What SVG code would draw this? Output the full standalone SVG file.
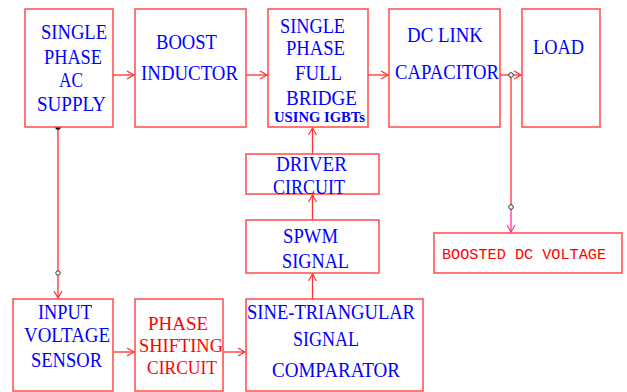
<svg xmlns="http://www.w3.org/2000/svg" width="627" height="392" viewBox="0 0 627 392">
<style>
.box{fill:#fff;stroke:#ff4a4a;stroke-width:1.5}
.t{font-family:"Liberation Serif","Times New Roman",serif;font-size:21px;fill:#0000ff}
.r{fill:#ff0000;font-size:19px}
.w{stroke:#ff3030;stroke-width:1.3;fill:none}
.mono{font-family:"Liberation Mono","Courier New",monospace;font-size:15px;fill:#ff0000}
</style>
<defs>
<marker id="ah" markerWidth="10" markerHeight="10" refX="8" refY="5" orient="auto" markerUnits="userSpaceOnUse">
<path d="M1,1 L8,5 L1,9" fill="none" stroke="#ff3030" stroke-width="1.2"/>
</marker>
<marker id="ahm" markerWidth="10" markerHeight="10" refX="8" refY="5" orient="auto" markerUnits="userSpaceOnUse">
<path d="M1,1 L8,5 L1,9" fill="none" stroke="#ff3399" stroke-width="1.2"/>
</marker>
</defs>
<rect width="627" height="392" fill="#fff"/>
<g id="connectors">
<line class="w" x1="113" y1="75" x2="134" y2="75" marker-end="url(#ah)"/>
<line class="w" x1="246" y1="75" x2="267" y2="75" marker-end="url(#ah)"/>
<line class="w" x1="368" y1="75" x2="388" y2="75" marker-end="url(#ah)"/>
<line class="w" x1="500" y1="75" x2="521" y2="75" marker-end="url(#ah)"/>
<line class="w" x1="511" y1="75" x2="511" y2="207"/>
<line x1="511" y1="207" x2="511" y2="232" stroke="#ff3399" stroke-width="1.3" marker-end="url(#ahm)"/>
<circle cx="511" cy="75" r="2.3" fill="#fff" stroke="#333" stroke-width="1"/>
<circle cx="511" cy="207" r="2.3" fill="#fff" stroke="#333" stroke-width="1"/>
<line class="w" x1="312.5" y1="154" x2="312.5" y2="128" marker-end="url(#ah)"/>
<line class="w" x1="312.5" y1="220" x2="312.5" y2="195" marker-end="url(#ah)"/>
<line class="w" x1="312.5" y1="299" x2="312.5" y2="274" marker-end="url(#ah)"/>
<line class="w" x1="58" y1="127" x2="58" y2="273"/>
<line class="w" x1="58" y1="273" x2="58" y2="298" marker-end="url(#ah)"/>
<circle cx="58" cy="127" r="2.8" fill="#000"/>
<circle cx="58" cy="273" r="2.2" fill="#fff" stroke="#333" stroke-width="1"/>
<line class="w" x1="113" y1="352" x2="134" y2="352" marker-end="url(#ah)"/>
<line class="w" x1="223" y1="352" x2="245" y2="352" marker-end="url(#ah)"/>
</g>
<g id="ac-supply">
<rect class="box" x="25" y="9" width="88" height="118"/>
<text class="t" x="41" y="39" textLength="66" lengthAdjust="spacingAndGlyphs">SINGLE</text>
<text class="t" x="44" y="64" textLength="58" lengthAdjust="spacingAndGlyphs">PHASE</text>
<text class="t" x="59" y="87" textLength="24" lengthAdjust="spacingAndGlyphs">AC</text>
<text class="t" x="37" y="111" textLength="69" lengthAdjust="spacingAndGlyphs">SUPPLY</text>
</g>
<g id="boost-inductor">
<rect class="box" x="135" y="9" width="111" height="118"/>
<text class="t" x="156" y="49" textLength="61" lengthAdjust="spacingAndGlyphs">BOOST</text>
<text class="t" x="141" y="80" textLength="97" lengthAdjust="spacingAndGlyphs">INDUCTOR</text>
</g>
<g id="full-bridge">
<rect class="box" x="268" y="9" width="100" height="118"/>
<text class="t" x="280" y="33" textLength="65" lengthAdjust="spacingAndGlyphs">SINGLE</text>
<text class="t" x="286" y="55" textLength="59" lengthAdjust="spacingAndGlyphs">PHASE</text>
<text class="t" x="295" y="80" textLength="47" lengthAdjust="spacingAndGlyphs">FULL</text>
<text class="t" x="286" y="105" textLength="71" lengthAdjust="spacingAndGlyphs">BRIDGE</text>
<text x="274" y="122" font-family="Liberation Serif,serif" font-weight="bold" font-size="14" fill="#0000ff" textLength="91" lengthAdjust="spacingAndGlyphs">USING IGBTs</text>
</g>
<g id="dc-link">
<rect class="box" x="389" y="9" width="111" height="118"/>
<text class="t" x="407" y="42" textLength="76" lengthAdjust="spacingAndGlyphs">DC LINK</text>
<text class="t" x="395" y="79" textLength="104" lengthAdjust="spacingAndGlyphs">CAPACITOR</text>
</g>
<g id="load">
<rect class="box" x="522" y="9" width="78" height="118"/>
<text class="t" x="533" y="54" textLength="51" lengthAdjust="spacingAndGlyphs">LOAD</text>
</g>
<g id="driver">
<rect class="box" x="246" y="154" width="133" height="40"/>
<text class="t" x="276" y="171" textLength="71" lengthAdjust="spacingAndGlyphs">DRIVER</text>
<text class="t" x="273" y="194" textLength="72" lengthAdjust="spacingAndGlyphs">CIRCUIT</text>
</g>
<g id="spwm">
<rect class="box" x="246" y="220" width="133" height="53"/>
<text class="t" x="283" y="243" textLength="55" lengthAdjust="spacingAndGlyphs">SPWM</text>
<text class="t" x="282" y="268" textLength="67" lengthAdjust="spacingAndGlyphs">SIGNAL</text>
</g>
<g id="boosted">
<rect class="box" x="434" y="233" width="188" height="40"/>
<text class="mono" x="442" y="259" textLength="164" lengthAdjust="spacingAndGlyphs">BOOSTED DC VOLTAGE</text>
</g>
<g id="sensor">
<rect class="box" x="13" y="299" width="100" height="92"/>
<text class="t" x="38" y="319" textLength="54" lengthAdjust="spacingAndGlyphs">INPUT</text>
<text class="t" x="24" y="342" textLength="86" lengthAdjust="spacingAndGlyphs">VOLTAGE</text>
<text class="t" x="31" y="367" textLength="71" lengthAdjust="spacingAndGlyphs">SENSOR</text>
</g>
<g id="phase-shift">
<rect class="box" x="135" y="299" width="88" height="92"/>
<text class="t r" x="148" y="330" textLength="60" lengthAdjust="spacingAndGlyphs">PHASE</text>
<text class="t r" x="139" y="352" textLength="84" lengthAdjust="spacingAndGlyphs">SHIFTING</text>
<text class="t r" x="147" y="374" textLength="70" lengthAdjust="spacingAndGlyphs">CIRCUIT</text>
</g>
<g id="comparator">
<rect class="box" x="246" y="299" width="177" height="92"/>
<text class="t" x="247" y="319" textLength="168" lengthAdjust="spacingAndGlyphs">SINE-TRIANGULAR</text>
<text class="t" x="293" y="346" textLength="66" lengthAdjust="spacingAndGlyphs">SIGNAL</text>
<text class="t" x="272" y="377" textLength="128" lengthAdjust="spacingAndGlyphs">COMPARATOR</text>
</g>
</svg>
